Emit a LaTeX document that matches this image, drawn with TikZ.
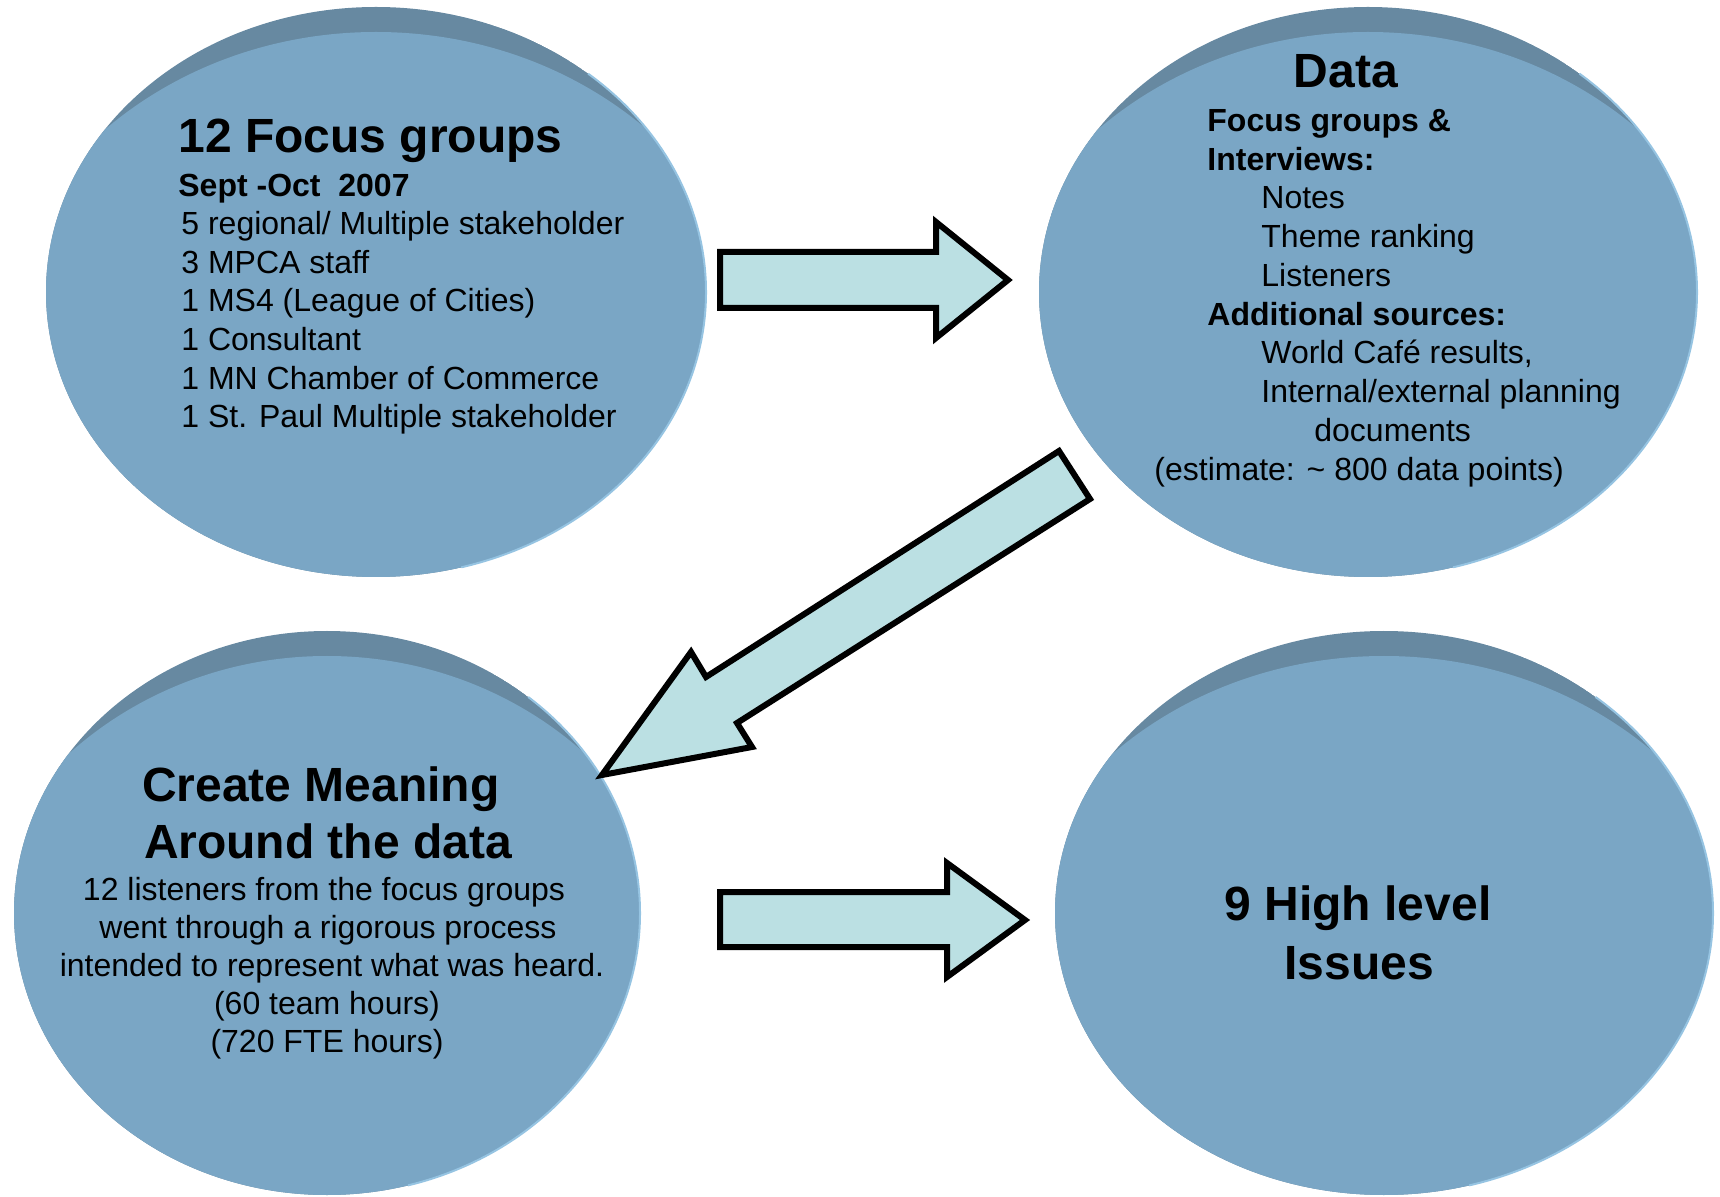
\documentclass[tikz,border=0pt]{standalone}
\usepackage{fontspec}
\setmainfont{Liberation Sans}
\definecolor{disc}{RGB}{122,166,197}
\definecolor{disctop}{RGB}{103,137,161}
\definecolor{discrim}{RGB}{150,196,226}
\definecolor{arrowfill}{RGB}{187,224,227}

\begin{document}
\begin{tikzpicture}[x=0.5pt, y=-0.5pt,
  every node/.style={inner sep=0pt},
  big/.style={font=\fontsize{24}{28}\selectfont\bfseries},
  sub/.style={font=\fontsize{16}{19}\selectfont\bfseries, anchor=base west},
  txt/.style={font=\fontsize{16}{19}\selectfont, anchor=base west},
  blockarrow/.style={draw=black, line width=3pt, fill=arrowfill, line join=miter}]
\useasboundingbox (0,0) rectangle (1720,1197);
\clip (0,0) rectangle (1720,1197);

% discs with darker top band
\foreach \cx/\cy/\rx/\ry in {376/292/330/285, 1368/292/329/285, 327/913/313/282, 1384/913/329/282} {
	\begin{scope}
	\clip (\cx,\cy) ellipse [x radius=\rx, y radius=\ry];
	\fill[disctop] (\cx,\cy) ellipse [x radius=\rx, y radius=\ry];
	\fill[disc] (\cx,\cy+100) ellipse [x radius=1.2*\rx, y radius=\ry+75];
	\end{scope}
	\draw[discrim, line width=1pt] ({\cx+\rx*cos(50)},{\cy-\ry*sin(50)}) arc [start angle=-50, end angle=75, x radius=\rx, y radius=\ry];
}

% focus groups
\node[big, anchor=base west] (fg-title) at (178,153) {12 Focus groups};
\node[sub] (fg-date) at (178,197) {Sept -Oct\ \ 2007};
\node[txt] (fg-1) at (181,235) {5 regional/ Multiple stakeholder};
\node[txt] (fg-2) at (181,273.5) {3 MPCA staff};
\node[txt] (fg-3) at (181,312) {1 MS4 (League of Cities)};
\node[txt] (fg-4) at (181,351) {1 Consultant};
\node[txt] (fg-5) at (181,389.5) {1 MN Chamber of Commerce};
\node[txt] (fg-6) at (181,428) {1 St. Paul Multiple stakeholder};

% data
\node[big, anchor=base] (data-title) at (1346,88) {Data};
\node[sub] (data-fg) at (1207,132) {Focus groups \&};
\node[sub] (data-iv) at (1207,170.5) {Interviews:};
\node[txt] (data-notes) at (1261,209) {Notes};
\node[txt] (data-rank) at (1261,248) {Theme ranking};
\node[txt] (data-lst) at (1261,287) {Listeners};
\node[sub] (data-add) at (1207,325.5) {Additional sources:};
\node[txt] (data-cafe) at (1261,364) {World Café results,};
\node[txt] (data-plan) at (1261,403) {Internal/external planning};
\node[txt] (data-doc) at (1314,442) {documents};
\node[txt] (data-est) at (1154,480.5) {(estimate: \textasciitilde{} 800 data points)};

% meaning
\node[big, anchor=base] (mean-1) at (321,802) {Create Meaning};
\node[big, anchor=base] (mean-2) at (328,858) {Around the data};
\node[txt, anchor=base] (mean-3) at (324,900) {12 listeners from the focus groups};
\node[txt, anchor=base] (mean-4) at (328,938) {went through a rigorous process};
\node[txt, anchor=base] (mean-5) at (332,976) {intended to represent what was heard.};
\node[txt, anchor=base] (mean-6) at (327,1014) {(60 team hours)};
\node[txt, anchor=base] (mean-7) at (327,1052) {(720 FTE hours)};

% issues
\node[big, anchor=base] (iss-1) at (1358,921) {9 High level};
\node[big, anchor=base] (iss-2) at (1359,979) {Issues};

% block arrows
\draw[blockarrow] (720,252) -- (936,252) -- (936,222) -- (1008,280) -- (936,338) -- (936,308) -- (720,308) -- cycle;
\draw[blockarrow] (1059,451) -- (706,677) -- (691,652) -- (602,775) -- (752,747) -- (737,723) -- (1090,499) -- cycle;
\draw[blockarrow] (720,892) -- (947,892) -- (947,863) -- (1025,920) -- (947,977) -- (947,947) -- (720,947) -- cycle;
\end{tikzpicture}
\end{document}
